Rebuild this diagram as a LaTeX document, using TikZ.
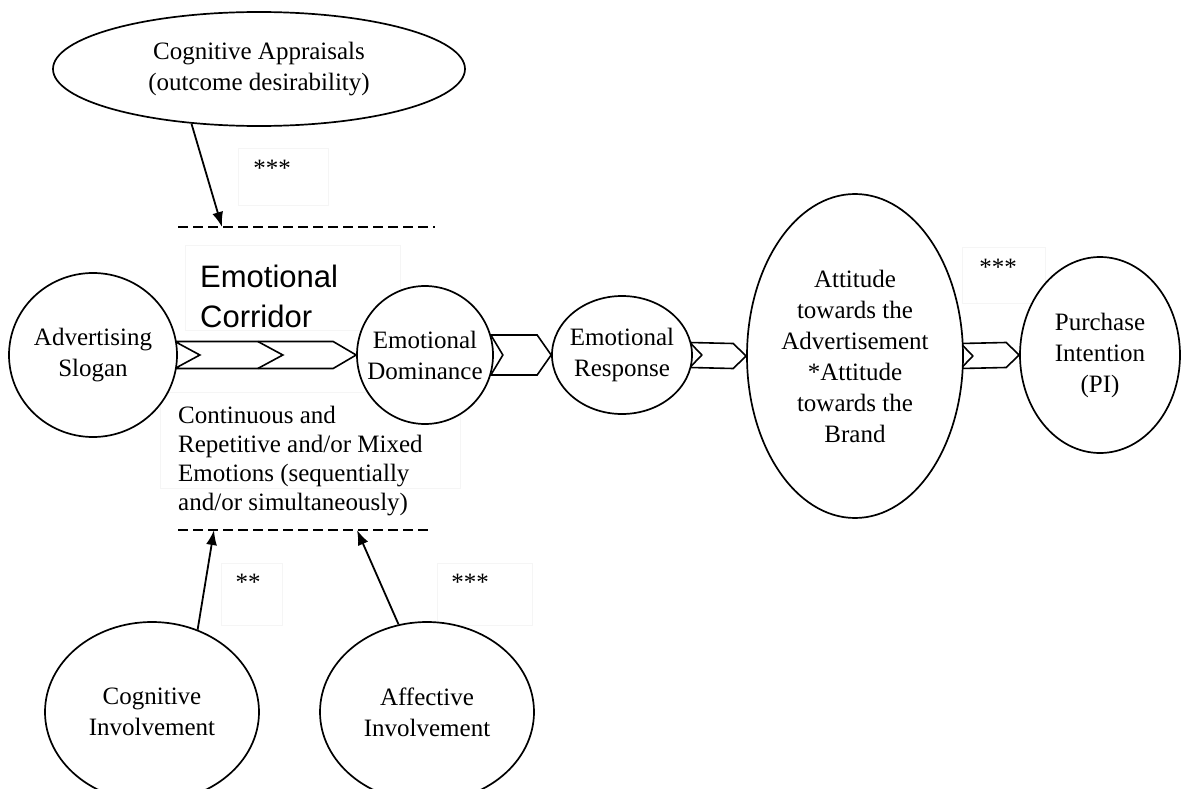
\documentclass[tikz,border=0pt]{standalone}
\usepackage{fontspec}
\setmainfont{Liberation Serif}
\newfontfamily\corrfont{Liberation Sans}
\usetikzlibrary{shapes.geometric,arrows.meta,calc,backgrounds}

% block arrow: from node, to node, half height, tip length, notch depth
\newcommand{\chevron}[5]{%
  \draw[chev] ($(#1.east)+(-3,-#3)$) -- ($(#2.west)+(-#4,-#3)$) -- (#2.west)
    -- ($(#2.west)+(-#4,#3)$) -- ($(#1.east)+(-3,#3)$)
    -- ($(#1.east)+(#5-3,0)$) -- cycle;}

\begin{document}
\begin{tikzpicture}[
    x=1pt, y=-1pt,
    font=\fontsize{25}{31}\selectfont,
    bubble/.style={ellipse, draw=black, line width=1.7pt, fill=white,
                   inner xsep=-15pt, inner ysep=0pt, align=center},
    chev/.style={draw=black, line width=1.6pt, fill=white, line join=miter},
    link/.style={line width=1.8pt, -{Latex[length=15pt,width=11pt]}},
    rule/.style={line width=1.6pt, dash pattern=on 10pt off 5pt},
    ghost/.style={draw=black!4, line width=0.8pt},
    stars/.style={inner sep=0pt}
]
    \useasboundingbox (0,0) rectangle (1187,789);

    % faint text frames
    \draw[ghost] (185,245) rectangle (400,330);
    \draw[ghost] (160,392) rectangle (460,488);
    \draw[ghost] (238,148) rectangle (328,205);
    \draw[ghost] (962,247) rectangle (1045,303);
    \draw[ghost] (221,563) rectangle (282,625);
    \draw[ghost] (437,563) rectangle (532,625);

    \node[bubble, minimum width=412pt, minimum height=114pt] (appraisal) at (259,69)
        {Cognitive Appraisals\\(outcome desirability)};
    \node[bubble, minimum width=168pt, minimum height=164pt] (slogan) at (93,355)
        {Advertising\\Slogan};
    \node[bubble, minimum width=136pt, minimum height=138pt] (dominance) at (425,355)
        {Emotional\\Dominance};
    \node[bubble, minimum width=140pt, minimum height=118pt] (response) at (622,355)
        {Emotional\\Response};
    \node[bubble, minimum width=216pt, minimum height=324pt] (attitude) at (855,356)
        {Attitude\\towards the\\Advertisement\\*Attitude\\towards the\\Brand};
    \node[bubble, minimum width=160pt, minimum height=196pt] (intention) at (1100,355)
        {Purchase\\Intention\\(PI)};
    \node[bubble, minimum width=214pt, minimum height=180pt] (coginv) at (152,712)
        {Cognitive\\Involvement};
    \node[bubble, minimum width=214pt, minimum height=180pt] (affinv) at (427,712)
        {Affective\\Involvement};

    \node[anchor=north west, align=left, inner sep=0pt,
          font=\corrfont\fontsize{31}{40}\selectfont] (corridor) at (200,265)
        {Emotional\\Corridor};
    \node[anchor=north west, align=left, inner sep=0pt] (mixed) at (178,406)
        {Continuous and\\[-2pt]Repetitive and/or Mixed\\[-2pt]Emotions (sequentially\\[-2pt]and/or simultaneously)};

    \node[stars] (starsA) at (272,168) {***};
    \node[stars] (starsB) at (248,582) {**};
    \node[stars] (starsC) at (470,582) {***};
    \node[stars] (starsD) at (998,267) {***};

    % block arrows behind the bubbles
    \begin{pgfonlayer}{background}
        \chevron{slogan}{dominance}{13.5}{23}{25}
        \draw[chev, fill=none] ($(slogan.east)+(80,-13.5)$) -- ++(25,13.5) -- ++(-25,13.5);
        \chevron{dominance}{response}{20}{14}{12}
        \chevron{response}{attitude}{12.5}{13}{12}
        \chevron{attitude}{intention}{12.5}{13}{12}
    \end{pgfonlayer}

    % dashed rules
    \coordinate (ruleTopL) at (178,227);
    \coordinate (ruleTopR) at (435,227);
    \coordinate (ruleBotL) at (178,530);
    \coordinate (ruleBotR) at (432,530);
    \draw[rule] (ruleTopL) -- (ruleTopR);
    \draw[rule] (ruleBotL) -- (ruleBotR);

    \coordinate (hitTop) at (222,227);
    \coordinate (hitCog) at (214,530);
    \coordinate (hitAff) at (357,530);
    \draw[link] (appraisal.219) -- (hitTop);
    \draw[link] (coginv.61) -- (hitCog);
    \draw[link] (affinv.108) -- (hitAff);

\end{tikzpicture}
\end{document}
